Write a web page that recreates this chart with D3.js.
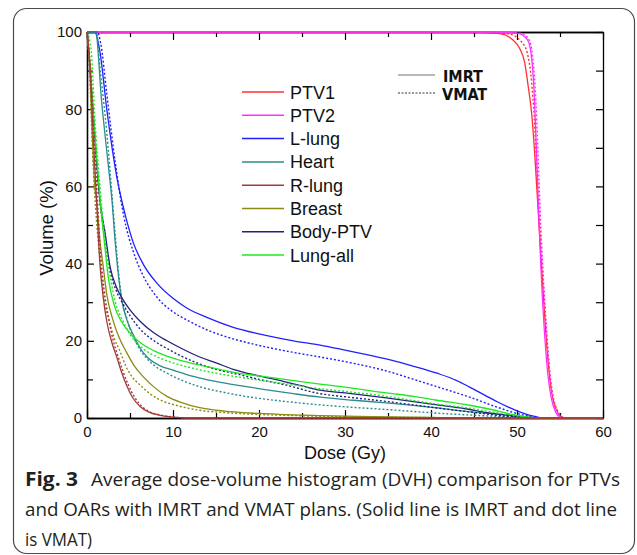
<!DOCTYPE html>
<html>
<head>
<meta charset="utf-8">
<script src="https://cdn.jsdelivr.net/npm/d3@7"></script>
<style>
  body { margin: 0; background: #fff; }
</style>
</head>
<body>
<div id="chart"></div>
<script>
// DVH curves, each point is [dose (Gy), volume (%)]
const ptv1Imrt = [[0,100],[45,100],[48,99.6],[49.5,98],[50.3,95.8],[50.9,92],[51.3,86],[51.7,79],[52.1,67],[52.4,56],[52.8,41],[53.2,27],[53.6,15],[54,7],[54.5,2.5],[55,0.6],[55.5,0],[60,0]]
const ptv1Vmat = [[0,100],[46,100],[49,99.5],[50.5,97.5],[51.2,94.5],[51.7,87],[52,78],[52.3,65],[52.6,52],[53,37],[53.4,23],[53.8,12],[54.2,5.5],[54.7,2],[55.2,0.4],[55.6,0],[60,0]]
const ptv2Imrt = [[0,100],[47,100],[50,99.7],[51.2,98],[51.6,95],[51.9,88],[52.1,79],[52.3,67],[52.5,54],[52.8,38],[53.2,22],[53.6,11],[54,5],[54.5,1.5],[55,0.2],[55.4,0],[60,0]]
const ptv2Vmat = [[0,100],[48,100],[50.5,99.6],[51.4,98],[51.8,94],[52.1,86],[52.3,77],[52.5,65],[52.7,53],[53,39],[53.4,24],[53.8,12],[54.2,5],[54.7,1.5],[55.2,0.2],[55.6,0],[60,0]]
const lLungImrt = [[0,100],[0.9,100],[1.5,95],[2.3,80],[3.5,62],[4.4,53],[5.4,45.3],[6.5,40],[8.1,35],[10,31],[11.6,28.5],[14,26],[17,23.5],[20,21.8],[24,20],[27.1,18.9],[30,17.6],[34.8,15.3],[38,13.4],[40.7,11.6],[43,9.7],[44.5,8],[46.5,5.6],[47.7,4.2],[49,2.8],[50.3,1.6],[51.5,0.7],[52.3,0.3],[53,0],[60,0]]
const lLungVmat = [[0,100],[1.2,100],[1.6,97],[2.3,84],[3.3,66],[4.3,52],[5.4,43],[6.5,37],[8.1,31.4],[10,27.5],[11.6,25.4],[14,22.8],[17,20.5],[20,18.8],[24,17],[27.1,15.8],[30,14.6],[34.8,12.2],[38,10],[40.7,8.1],[44.5,5.4],[47.7,2.8],[50.3,1],[51.8,0.3],[52.5,0],[60,0]]
const heartImrt = [[0,100],[1,100],[1.7,82],[2.5,65],[2.9,56.5],[3.3,45],[4,31],[4.7,25],[5.4,21.5],[6.2,18],[7,15.8],[8.5,13.5],[10,12.4],[12.5,10.7],[15.1,9.4],[18,8.3],[20.9,7.3],[24,6.3],[27.1,5.4],[31,4.6],[34.8,3.9],[40.7,2.6],[44.5,1.6],[48.8,0.8],[51.5,0.2],[52.5,0],[60,0]]
const heartVmat = [[0,100],[1.1,100],[1.5,91],[2.3,74],[2.9,58],[3.3,47],[3.8,35],[4.6,26],[5.4,21],[6.2,17.6],[7.5,14.2],[9.3,11.6],[11,9.8],[13.1,8.1],[16,6.6],[19,5.4],[23,4.3],[27.1,3.4],[30,2.9],[34.8,2.2],[38.5,1.6],[42.6,1],[46,0.6],[48.8,0.3],[50.5,0],[60,0]]
const rLungImrt = [[0,100],[0.35,91],[0.7,74],[1.1,57],[1.5,40],[1.9,31],[2.3,25],[2.9,19.5],[3.5,15.5],[4,12],[4.6,8.5],[5.3,5.3],[6.2,2.9],[7.2,1.5],[8.5,0.7],[10,0.2],[11.5,0],[60,0]]
const rLungVmat = [[0,100],[0.4,91],[0.8,74],[1.2,57],[1.6,42],[2,33],[2.5,26],[3,20.5],[3.6,16],[4.2,12],[4.8,8.6],[5.5,5.5],[6.3,3.2],[7.3,1.6],[8.5,0.8],[10,0.25],[11.5,0],[60,0]]
const breastImrt = [[0,100],[0.3,92],[0.6,74],[0.9,60],[1.1,56.5],[1.5,46],[1.9,39],[2.3,32],[3,25.5],[3.8,20.5],[4.6,17],[5.5,13.5],[6.5,10.8],[7.8,8],[9.3,5.6],[11,4],[13.1,2.7],[16,1.8],[19,1.3],[23,0.9],[27.1,0.6],[33,0.35],[40,0.15],[46,0],[60,0]]
const breastVmat = [[0,100],[0.3,90],[0.6,72],[0.9,58],[1.3,46],[1.7,37],[2,31],[2.6,25],[3.2,20.5],[3.8,17.5],[4.5,13.5],[5.3,10.5],[6.2,8.5],[7.5,6],[9,4.2],[10.5,3.2],[13.1,2],[16,1.4],[19,1],[23,0.7],[27.1,0.45],[33,0.25],[40,0.1],[45,0],[60,0]]
const bodyImrt = [[0,100],[0.3,92],[0.7,80],[1.1,67],[1.5,56.5],[2.1,48],[2.7,39],[3.4,34],[4.2,30.6],[5,28],[6.2,25],[7.8,22],[9.3,20],[11,18],[13.1,15.8],[15,14.3],[17,12.6],[20,10.9],[22.8,9.5],[25,8.3],[27.1,7.2],[30,6.5],[34.8,5.2],[40.7,3.4],[44,2.4],[46.5,1.4],[48.5,0.8],[50.3,0.3],[51.5,0],[60,0]]
const bodyVmat = [[0,100],[0.3,91],[0.7,78],[1.1,66],[1.5,56],[2.1,46],[2.7,38],[3.4,33],[4.2,29.5],[5,26.5],[6.2,23],[7.8,20],[9.3,18],[11,16],[13.1,14],[15,12.6],[17.4,11.4],[20,10],[23,8.6],[27.1,6.3],[30,5.5],[34.8,4.3],[40.7,2.6],[44,1.7],[46.5,1],[48.5,0.5],[50.3,0.2],[51.5,0],[60,0]]
const lungAllImrt = [[0,100],[0.3,93],[0.7,80],[1.1,68],[1.5,57],[2,46],[2.5,36],[3.2,29],[4,25],[5,22],[6.2,19.5],[7.8,17.4],[10,15.5],[12.5,14],[15,12.8],[17.4,11.7],[20,10.9],[23,10],[27.1,8.8],[30,8],[34.8,6.5],[38,5.6],[40.7,4.6],[44.5,3.3],[47,2.2],[49.3,1],[51,0.3],[52,0],[60,0]]
const lungAllVmat = [[0,100],[0.5,95],[0.9,78],[1.5,60],[2,48],[2.6,38],[3.3,30],[4.2,25],[5.2,21],[6.5,18],[8,16],[10,14.3],[12.5,12.8],[15,11.6],[17.4,10.7],[20,9.8],[23,8.9],[27.1,7.6],[30,6.9],[34.8,5.6],[40.7,3.6],[44.5,2.5],[47,1.6],[49.5,0.7],[51,0.2],[52,0],[60,0]]

const structures = ["PTV1", "PTV2", "L-lung", "Heart", "R-lung", "Breast", "Body-PTV", "Lung-all"]
const colors = ["#ff3030", "#ff30ff", "#2020ff", "#2a8c8c", "#a33a3a", "#8c8a10", "#22227e", "#20e820"]
const imrtCurves = [ptv1Imrt, ptv2Imrt, lLungImrt, heartImrt, rLungImrt, breastImrt, bodyImrt, lungAllImrt]
const vmatCurves = [ptv1Vmat, ptv2Vmat, lLungVmat, heartVmat, rLungVmat, breastVmat, bodyVmat, lungAllVmat]
const plans = ["IMRT", "VMAT"]
const xTicks = [0, 10, 20, 30, 40, 50, 60]
const yTicks = [0, 20, 40, 60, 80, 100]

const sans = "Liberation Sans, Arial, sans-serif"
const W = 637, H = 555
const svg = d3.select("#chart").append("svg")
    .attr("width", W)
    .attr("height", H)
    .attr("font-family", sans)

// rounded frame round the whole figure
svg.append("rect")
    .attr("x", 13.5).attr("y", 8.5)
    .attr("width", 621).attr("height", 545)
    .attr("rx", 13)
    .attr("fill", "none")
    .attr("stroke", "#4a4a4a")
    .attr("stroke-width", 1.2)

const x = d3.scaleLinear().domain([0, 60]).range([87, 603])
const y = d3.scaleLinear().domain([0, 100]).range([418, 32])

// axes, ticks pointing inward
function styleAxis(g) {
  g.selectAll("path.domain").attr("stroke", "#000").attr("stroke-width", 1.3)
  g.selectAll(".tick line").attr("stroke", "#000").attr("stroke-width", 1.2)
  g.selectAll(".tick text").attr("font-size", 15).attr("fill", "#111")
    .attr("font-family", sans)
}
const minorX = d3.range(5, 60, 10)
const minorY = d3.range(10, 100, 20)

svg.append("g").attr("transform", "translate(0,418)")
  .call(d3.axisBottom(x).tickValues(xTicks).tickSize(-8).tickSizeOuter(0).tickPadding(8))
  .call(styleAxis)
svg.append("g").attr("transform", "translate(0,418)")
  .call(d3.axisBottom(x).tickValues(minorX).tickSize(-5).tickSizeOuter(0).tickFormat(""))
  .call(styleAxis)
svg.append("g").attr("transform", "translate(0,32)")
  .call(d3.axisTop(x).tickValues(xTicks).tickSize(-8).tickSizeOuter(0).tickFormat(""))
  .call(styleAxis)
svg.append("g").attr("transform", "translate(0,32)")
  .call(d3.axisTop(x).tickValues(minorX).tickSize(-5).tickSizeOuter(0).tickFormat(""))
  .call(styleAxis)
svg.append("g").attr("transform", "translate(87,0)")
  .call(d3.axisLeft(y).tickValues(yTicks).tickSize(-7).tickSizeOuter(0).tickPadding(5))
  .call(styleAxis)
svg.append("g").attr("transform", "translate(87,0)")
  .call(d3.axisLeft(y).tickValues(minorY).tickSize(-6).tickSizeOuter(0).tickFormat(""))
  .call(styleAxis)
svg.append("g").attr("transform", "translate(603,0)")
  .call(d3.axisRight(y).tickValues(d3.range(0, 101, 10)).tickSize(-7).tickSizeOuter(0).tickFormat(""))
  .call(styleAxis)

// axis titles
svg.append("text")
    .attr("x", 345).attr("y", 459)
    .attr("text-anchor", "middle")
    .attr("font-size", 18)
    .attr("fill", "#111")
    .text("Dose (Gy)")
svg.append("text")
    .attr("transform", "translate(53,228) rotate(-90)")
    .attr("text-anchor", "middle")
    .attr("font-size", 18.5)
    .attr("fill", "#111")
    .text("Volume (%)")

// curves
svg.append("clipPath").attr("id", "plotclip")
  .append("rect").attr("x", 86).attr("y", 30).attr("width", 519).attr("height", 390)

const line = d3.line()
    .x(d => x(d[0]))
    .y(d => y(d[1]))
    .curve(d3.curveMonotoneX)

const drawOrder = [0, 1, 2, 3, 6, 7, 5, 4]
const curves = svg.append("g").attr("clip-path", "url(#plotclip)")
drawOrder.forEach(i => {
  curves.append("path")
      .attr("d", line(vmatCurves[i]))
      .attr("fill", "none")
      .attr("stroke", colors[i])
      .attr("stroke-width", 1.4)
      .attr("stroke-dasharray", "2,2")
  curves.append("path")
      .attr("d", line(imrtCurves[i]))
      .attr("fill", "none")
      .attr("stroke", colors[i])
      .attr("stroke-width", 1.3)
})

// structure legend
const leg = svg.append("g")
structures.forEach((s, i) => {
  const ly = 92 + i * 23.3
  leg.append("line")
      .attr("x1", 242).attr("x2", 284)
      .attr("y1", ly).attr("y2", ly)
      .attr("stroke", colors[i])
      .attr("stroke-width", 1.5)
  leg.append("text")
      .attr("x", 290).attr("y", ly + 6.5)
      .attr("font-size", 18)
      .attr("fill", "#111")
      .text(s)
})

// plan legend
plans.forEach((p, i) => {
  const ly = 75 + i * 18
  svg.append("line")
      .attr("x1", 398).attr("x2", 435)
      .attr("y1", ly).attr("y2", ly)
      .attr("stroke", i == 0 ? "#a0a0a0" : "#333")
      .attr("stroke-width", i == 0 ? 1.5 : 1)
      .attr("stroke-dasharray", i == 0 ? null : "2,1.5")
  svg.append("text")
      .attr("x", i == 0 ? 443 : 442).attr("y", ly + 7)
      .attr("font-family", "Liberation Sans Narrow, DejaVu Sans Condensed, sans-serif")
      .attr("font-weight", "bold")
      .attr("font-size", 16)
      .attr("fill", "#111")
      .text(p)
})

// caption
const capFont = "Open Sans, Noto Sans, sans-serif"
const cap = svg.append("g").attr("font-family", capFont).attr("fill", "#231f20")
cap.append("text")
    .attr("x", 25).attr("y", 486)
    .attr("font-weight", "bold").attr("font-size", 19)
    .attr("textLength", 53).attr("lengthAdjust", "spacingAndGlyphs")
    .text("Fig. 3")
cap.append("text")
    .attr("x", 91).attr("y", 486)
    .attr("font-size", 19)
    .attr("textLength", 529).attr("lengthAdjust", "spacingAndGlyphs")
    .text("Average dose-volume histogram (DVH) comparison for PTVs")
cap.append("text")
    .attr("x", 25).attr("y", 516)
    .attr("font-size", 19)
    .attr("textLength", 592).attr("lengthAdjust", "spacingAndGlyphs")
    .text("and OARs with IMRT and VMAT plans. (Solid line is IMRT and dot line")
cap.append("text")
    .attr("x", 25).attr("y", 546)
    .attr("font-size", 19)
    .attr("textLength", 67).attr("lengthAdjust", "spacingAndGlyphs")
    .text("is VMAT)")
</script>
</body>
</html>
